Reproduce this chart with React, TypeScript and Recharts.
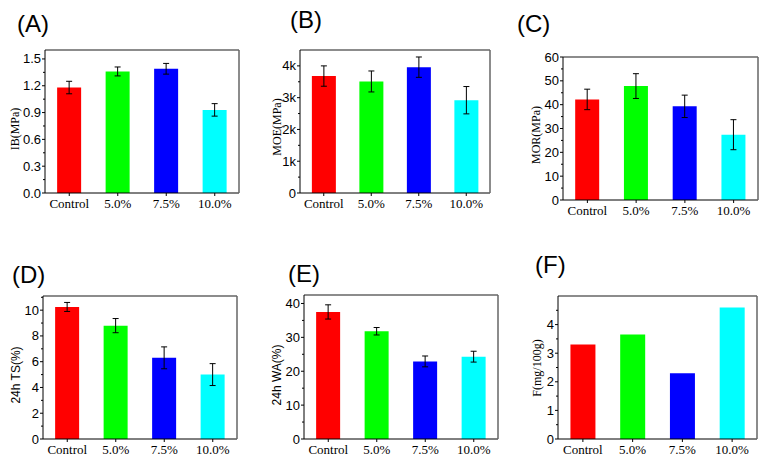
import { BarChart, Bar, Cell, XAxis, YAxis, ErrorBar } from "recharts";

// categories & colours
const categories = ["Control", "5.0%", "7.5%", "10.0%"];
const barColors = ["#ff0000", "#00ff00", "#0000ff", "#00ffff"];

// (A) internal bond
const ibValues = [1.18, 1.36, 1.39, 0.93];
const ibErrors = [0.07, 0.05, 0.06, 0.07];
const ibMajor = [0, 0.3, 0.6, 0.9, 1.2, 1.5];
const ibMinor = [0.15, 0.45, 0.75, 1.05, 1.35];

// (B) modulus of elasticity
const moeValues = [3680, 3510, 3960, 2920];
const moeErrors = [320, 330, 320, 430];
const moeMajor = [0, 1000, 2000, 3000, 4000];
const moeMinor = [500, 1500, 2500, 3500];

// (C) modulus of rupture
const morValues = [42.2, 47.8, 39.3, 27.4];
const morErrors = [4.3, 5.2, 4.7, 6.3];
const morMajor = [0, 10, 20, 30, 40, 50, 60];
const morMinor = [5, 15, 25, 35, 45, 55];

// (D) thickness swelling
const tsValues = [10.25, 8.8, 6.3, 5.0];
const tsErrors = [0.35, 0.55, 0.85, 0.85];
const tsMajor = [0, 2, 4, 6, 8, 10];
const tsMinor = [1, 3, 5, 7, 9, 11];

// (E) water absorption
const waValues = [37.5, 31.8, 22.9, 24.3];
const waErrors = [2.1, 1.1, 1.6, 1.6];
const waMajor = [0, 10, 20, 30, 40];
const waMinor = [5, 15, 25, 35];

// (F) formaldehyde emission
const fValues = [3.3, 3.65, 2.3, 4.6];
const fMajor = [0, 1, 2, 3, 4];
const fMinor = [0.5, 1.5, 2.5, 3.5, 4.5];

const SANS = "'Liberation Sans', Arial, sans-serif";
const SERIF = "'Liberation Serif', 'Times New Roman', serif";
const Y_W = 44;
const X_H = 24;
const TOP = 8;

type Box = { x: number; y: number; w: number; h: number };

const makeYTick = (majors: number[], fmt: (v: number) => string) => (props: any) => {
  const { x, y, payload } = props;
  const major = majors.includes(payload.value);
  return (
    <g>
      <line x1={x} x2={x - (major ? 3 : 2)} y1={y} y2={y} stroke="#000" />
      {major && (
        <text x={x - 4} y={y} dy="0.35em" textAnchor="end" fontFamily={SANS} fontSize={13} fill="#000">
          {fmt(payload.value)}
        </text>
      )}
    </g>
  );
};

interface PanelProps {
  box: Box;
  values: number[];
  errors?: number[];
  domain: [number, number];
  majors: number[];
  minors: number[];
  fmt: (v: number) => string;
}

const Panel = ({ box, values, errors, domain, majors, minors, fmt }: PanelProps) => {
  const data = categories.map((name, i) => ({ name, v: values[i], e: errors ? errors[i] : 0 }));
  const ticks = [...majors, ...minors].sort((a, b) => a - b);
  return (
    <div style={{ position: "absolute", left: box.x - Y_W, top: box.y - TOP - 1 }}>
      <BarChart
        width={Y_W + box.w + 2}
        height={box.h + X_H + TOP + 1}
        data={data}
        margin={{ top: TOP, right: 1, bottom: 0, left: 0 }}
        barCategoryGap="25%"
      >
        <XAxis
          dataKey="name"
          interval={0}
          height={X_H}
          tickSize={3}
          tickMargin={3}
          axisLine={{ stroke: "#000" }}
          tickLine={{ stroke: "#000" }}
          tick={{ fontFamily: SERIF, fontSize: 13, fill: "#000" }}
        />
        <XAxis xAxisId="top" orientation="top" height={1} tick={false} tickLine={false} axisLine={{ stroke: "#666", strokeWidth: 1.5 }} />
        <YAxis
          width={Y_W}
          domain={domain}
          ticks={ticks}
          interval={0}
          tickSize={0}
          tickMargin={0}
          tickLine={false}
          axisLine={{ stroke: "#000" }}
          tick={makeYTick(majors, fmt)}
        />
        <YAxis yAxisId="right" orientation="right" width={1} tick={false} tickLine={false} axisLine={{ stroke: "#666", strokeWidth: 1.5 }} />
        <Bar dataKey="v" isAnimationActive={false}>
          {data.map((d, i) => (
            <Cell key={d.name} fill={barColors[i]} />
          ))}
          {errors && <ErrorBar dataKey="e" width={3} stroke="#000" strokeWidth={1} isAnimationActive={false} />}
        </Bar>
      </BarChart>
    </div>
  );
};

const letters = [
  { t: "(A)", x: 17, y: 32 },
  { t: "(B)", x: 290, y: 28 },
  { t: "(C)", x: 517, y: 32 },
  { t: "(D)", x: 12, y: 283 },
  { t: "(E)", x: 288, y: 282 },
  { t: "(F)", x: 535, y: 273 },
];

const yTitles = [
  { t: "IB(MPa)", x: 15, y: 129, f: SERIF },
  { t: "MOE(MPa)", x: 277, y: 127, f: SERIF },
  { t: "MOR(MPa)", x: 536, y: 135, f: SERIF },
  { t: "24h TS(%)", x: 16, y: 375, f: SANS },
  { t: "24h WA(%)", x: 277, y: 375, f: SANS },
  { t: "F(mg/100g)", x: 537, y: 368, f: SERIF },
];

const dec1 = (v: number) => v.toFixed(1);
const kFmt = (v: number) => (v === 0 ? "0" : `${v / 1000}k`);
const plain = (v: number) => String(v);

export default function App() {
  return (
    <div style={{ position: "absolute", left: 0, top: 0, width: 760, height: 464, background: "#fff", overflow: "hidden" }}>
      <Panel box={{ x: 45, y: 50, w: 194, h: 143 }} values={ibValues} errors={ibErrors} domain={[0, 1.6]} majors={ibMajor} minors={ibMinor} fmt={dec1} />
      <Panel box={{ x: 300, y: 50, w: 190, h: 143 }} values={moeValues} errors={moeErrors} domain={[0, 4500]} majors={moeMajor} minors={moeMinor} fmt={kFmt} />
      <Panel box={{ x: 563, y: 57, w: 195, h: 143 }} values={morValues} errors={morErrors} domain={[0, 60]} majors={morMajor} minors={morMinor} fmt={plain} />
      <Panel box={{ x: 43, y: 296, w: 194, h: 143 }} values={tsValues} errors={tsErrors} domain={[0, 11.1]} majors={tsMajor} minors={tsMinor} fmt={plain} />
      <Panel box={{ x: 304, y: 295, w: 194, h: 144 }} values={waValues} errors={waErrors} domain={[0, 42.5]} majors={waMajor} minors={waMinor} fmt={plain} />
      <Panel box={{ x: 558, y: 296, w: 199, h: 143 }} values={fValues} domain={[0, 5]} majors={fMajor} minors={fMinor} fmt={plain} />
      <svg width={760} height={464} style={{ position: "absolute", left: 0, top: 0, pointerEvents: "none" }}>
        {letters.map((l) => (
          <text key={l.t} x={l.x} y={l.y} fontFamily={SANS} fontSize={24} fill="#000">
            {l.t}
          </text>
        ))}
        {yTitles.map((l) => (
          <text
            key={l.t}
            x={l.x}
            y={l.y}
            transform={`rotate(-90 ${l.x} ${l.y})`}
            textAnchor="middle"
            dominantBaseline="central"
            fontFamily={l.f}
            fontSize={12}
            fill="#000"
          >
            {l.t}
          </text>
        ))}
      </svg>
    </div>
  );
}
